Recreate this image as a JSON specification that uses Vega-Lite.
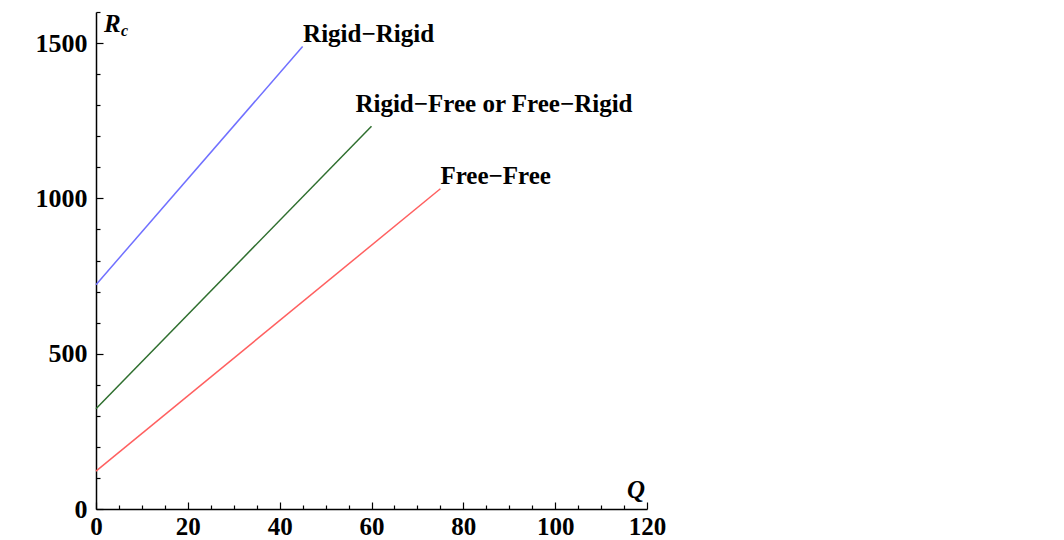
{
  "$schema": "https://vega.github.io/schema/vega-lite/v6.json",
  "width": 551,
  "height": 497,
  "autosize": {"type": "none"},
  "padding": {"left": 96, "top": 12, "right": 417, "bottom": 31},
  "background": "white",
  "config": {
    "view": {"stroke": null},
    "text": {"font": "Liberation Serif", "fontWeight": "bold", "color": "black"}
  },
  "datasets": {
    "curves": [
      {"Q": 0, "Rc": 722, "series": "Rigid−Rigid"},
      {"Q": 45, "Rc": 1489, "series": "Rigid−Rigid"},
      {"Q": 0, "Rc": 323, "series": "Rigid−Free"},
      {"Q": 60, "Rc": 1232, "series": "Rigid−Free"},
      {"Q": 0, "Rc": 122, "series": "Free−Free"},
      {"Q": 75, "Rc": 1031, "series": "Free−Free"}
    ],
    "labels": [
      {"Q": 45.1, "Rc": 1502, "label": "Rigid−Rigid"},
      {"Q": 56.5, "Rc": 1277, "label": "Rigid−Free or Free−Rigid"},
      {"Q": 75.0, "Rc": 1045, "label": "Free−Free"}
    ],
    "titles": [
      {"Q": 0, "Rc": 1600, "t": "R"}
    ]
  },
  "resolve": {"axis": {"x": "independent", "y": "independent"}},
  "layer": [
    {
      "data": {"name": "curves"},
      "mark": {"type": "point", "opacity": 0},
      "encoding": {
        "x": {"field": "Q", "type": "quantitative", "scale": {"domain": [0, 120], "nice": false},
          "axis": {"orient": "bottom", "values": [5,10,15,25,30,35,45,50,55,65,70,75,85,90,95,105,110,115], "labels": false, "domain": false, "grid": false, "tickSize": -4, "tickColor": "black", "tickWidth": 1.2, "title": null}},
        "y": {"field": "Rc", "type": "quantitative", "scale": {"domain": [0, 1600], "nice": false},
          "axis": {"orient": "left", "values": [100,200,300,400,600,700,800,900,1100,1200,1300,1400,1600], "labels": false, "domain": false, "grid": false, "tickSize": -4, "tickColor": "black", "tickWidth": 1.2, "title": null}}
      }
    },
    {
      "data": {"name": "curves"},
      "mark": {"type": "line", "strokeWidth": 1.5},
      "encoding": {
        "x": {"field": "Q", "type": "quantitative", "scale": {"domain": [0, 120], "nice": false},
          "axis": {"orient": "bottom", "values": [0,20,40,60,80,100,120], "format": "d", "grid": false, "tickSize": -7, "tickColor": "black", "tickWidth": 1.2, "domainColor": "black", "domainWidth": 1.5, "labelFont": "Liberation Serif", "labelFontWeight": "bold", "labelFontSize": 25, "labelColor": "black", "labelPadding": 12, "labelFlush": false, "labelOverlap": false, "title": null}},
        "y": {"field": "Rc", "type": "quantitative", "scale": {"domain": [0, 1600], "nice": false},
          "axis": {"orient": "left", "values": [0,500,1000,1500], "format": "d", "grid": false, "tickSize": -7, "tickColor": "black", "tickWidth": 1.2, "domainColor": "black", "domainWidth": 1.5, "labelFont": "Liberation Serif", "labelFontWeight": "bold", "labelFontSize": 26, "labelColor": "black", "labelPadding": 16, "labelFlush": false, "labelOverlap": false, "title": null}},
        "color": {"field": "series", "type": "nominal", "legend": null,
          "scale": {"domain": ["Rigid−Rigid", "Rigid−Free", "Free−Free"], "range": ["#7070ff", "#2f6f2f", "#ff6060"]}}
      }
    },
    {
      "data": {"name": "labels"},
      "mark": {"type": "text", "align": "left", "baseline": "alphabetic", "fontSize": 25},
      "encoding": {
        "x": {"field": "Q", "type": "quantitative", "axis": null},
        "y": {"field": "Rc", "type": "quantitative", "axis": null},
        "text": {"field": "label"}
      }
    },
    {
      "data": {"name": "titles"},
      "mark": {"type": "text", "align": "left", "baseline": "alphabetic", "fontSize": 25, "fontStyle": "italic", "dx": 8, "dy": 20},
      "encoding": {
        "x": {"field": "Q", "type": "quantitative", "axis": null},
        "y": {"field": "Rc", "type": "quantitative", "axis": null},
        "text": {"value": "R"}
      }
    },
    {
      "data": {"name": "titles"},
      "mark": {"type": "text", "align": "left", "baseline": "alphabetic", "fontSize": 16, "fontStyle": "italic", "dx": 25, "dy": 24},
      "encoding": {
        "x": {"field": "Q", "type": "quantitative", "axis": null},
        "y": {"field": "Rc", "type": "quantitative", "axis": null},
        "text": {"value": "c"}
      }
    },
    {
      "data": {"name": "titles"},
      "mark": {"type": "text", "align": "right", "baseline": "alphabetic", "fontSize": 25, "fontStyle": "italic", "dx": 549, "dy": 486},
      "encoding": {
        "x": {"field": "Q", "type": "quantitative", "axis": null},
        "y": {"field": "Rc", "type": "quantitative", "axis": null},
        "text": {"value": "Q"}
      }
    }
  ]
}
